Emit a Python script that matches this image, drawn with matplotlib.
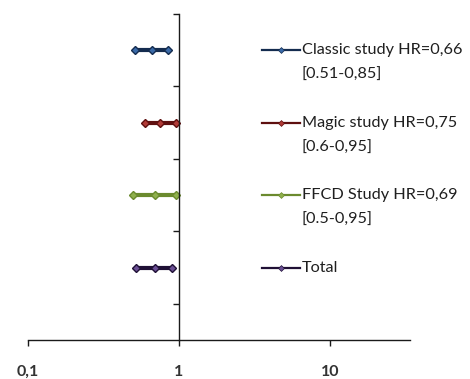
import matplotlib
matplotlib.use('Agg')
import matplotlib.pyplot as plt
import matplotlib.transforms as mtransforms

# Study data: lower CI, HR, upper CI
studies = ["Classic study HR=0,66", "Magic study HR=0,75", "FFCD Study HR=0,69", "Total"]
ci_text = ["[0.51-0,85]", "[0.6-0,95]", "[0.5-0,95]", ""]
lower = [0.51, 0.6, 0.5, 0.52]
hr = [0.66, 0.75, 0.69, 0.69]
upper = [0.85, 0.95, 0.95, 0.9]
rows = [4, 3, 2, 1]

x_ticks = [0.1, 1, 10]
x_tick_labels = ["0,1", "1", "10"]

line_colors = ["#142c4f", "#5e0f0f", "#6b8a2e", "#1f1035"]
marker_colors = ["#3a6aa8", "#b03a36", "#8fb04c", "#6a4f94"]

plt.rcParams['font.family'] = ['Lato', 'DejaVu Sans']

fig = plt.figure(figsize=(4.7, 3.79), dpi=100)
ax = fig.add_axes([28 / 470, 39 / 379, 382 / 470, 326 / 379])

for i in range(len(studies)):
    xs = [lower[i], hr[i], upper[i]]
    ys = [rows[i]] * 3
    ax.plot(xs, ys, color=line_colors[i], lw=3, marker='D', markersize=4.5,
            markerfacecolor=marker_colors[i], markeredgecolor=line_colors[i],
            markeredgewidth=1.0, solid_capstyle='butt')

    # legend-like sample and label next to each row
    trans = mtransforms.blended_transform_factory(ax.transAxes, ax.transData)
    ax.plot([0.6126, 0.712], [rows[i], rows[i]], transform=trans, color=line_colors[i],
            lw=1.6, clip_on=False)
    ax.plot([0.662], [rows[i]], transform=trans, marker='D', markersize=3,
            color=marker_colors[i], markeredgecolor=line_colors[i], markeredgewidth=0.5,
            clip_on=False)
    ax.text(0.716, rows[i], studies[i], transform=trans, va='center', ha='left',
            fontsize=11.7, color='#1f1f1f')
    if ci_text[i]:
        ax.annotate(ci_text[i], xy=(0.716, rows[i]), xycoords=trans,
                    xytext=(0, -18), textcoords='offset points',
                    va='center', ha='left', fontsize=11.7, color='#1f1f1f')

ax.set_xscale('log')
ax.set_xlim(0.1, 34)
ax.set_ylim(0, 4.5)

ax.spines['left'].set_position(('data', 1))
ax.spines['top'].set_visible(False)
ax.spines['right'].set_visible(False)
for sp in ['left', 'bottom']:
    ax.spines[sp].set_color('#1a1a1a')
    ax.spines[sp].set_linewidth(1.0)

ax.set_yticks([0.5, 1.5, 2.5, 3.5, 4.5])
ax.set_yticklabels([])
ax.tick_params(axis='y', length=4, width=1.0, color='#1a1a1a', direction='out')

ax.set_xticks(x_ticks)
ax.set_xticklabels(x_tick_labels)
ax.xaxis.set_minor_locator(matplotlib.ticker.NullLocator())
ax.tick_params(axis='x', length=4, width=1.0, color='#1a1a1a', direction='out',
               pad=14, labelsize=11.5, labelcolor='#333333')
for lbl in ax.get_xticklabels():
    lbl.set_fontweight('bold')

fig.savefig('out.png', dpi=100)
